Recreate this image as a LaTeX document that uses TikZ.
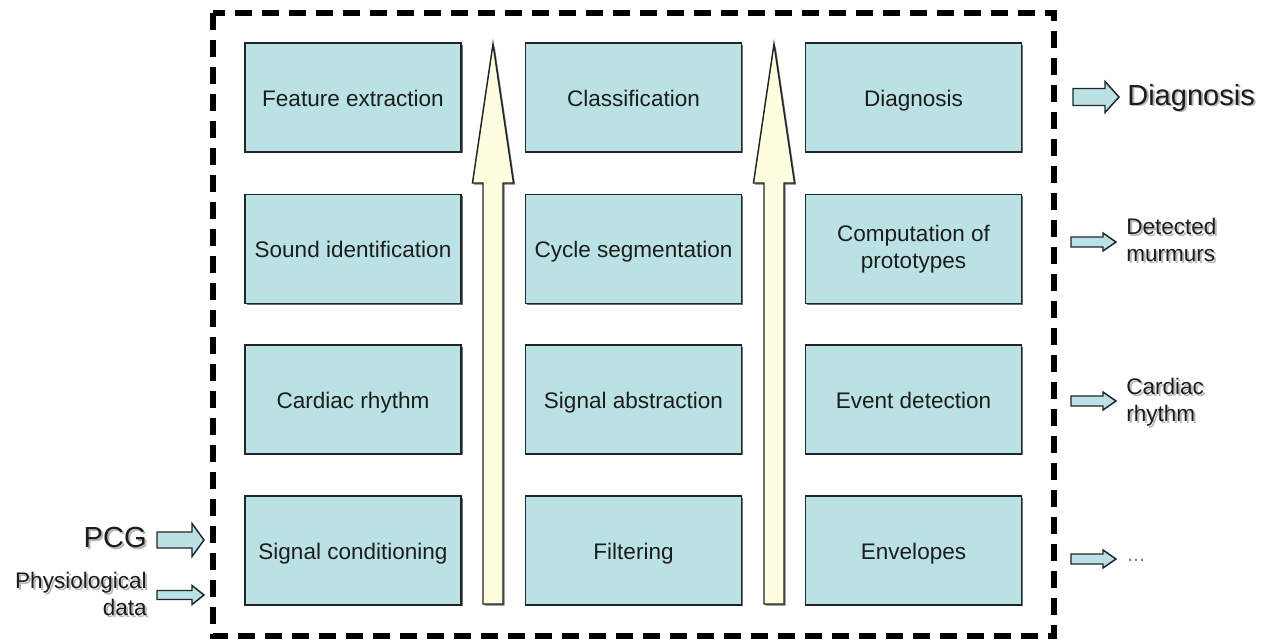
\documentclass[tikz,border=0pt]{standalone}
\usepackage{fontspec}
\setmainfont{Liberation Sans}
\usetikzlibrary{shadows}
\definecolor{boxfill}{RGB}{186,226,228}
\definecolor{arrfill}{RGB}{255,253,224}
\definecolor{txt}{RGB}{28,28,28}
\definecolor{edge}{RGB}{30,38,40}
\newcommand\blkarrow[6]{% x0, xhead, xtip, yc, shaft half, head half
  \filldraw[blockarr] (#1,#4-#5) -- (#2,#4-#5) -- (#2,#4-#6) -- (#3,#4)
    -- (#2,#4+#6) -- (#2,#4+#5) -- (#1,#4+#5) -- cycle;}
\begin{document}
\begin{tikzpicture}[x=0.75pt,y=-0.75pt,
  boxbase/.style={draw=edge, line width=1.1pt, fill=boxfill,
    minimum width=162pt, minimum height=81.5pt, inner sep=0pt,
    text=txt, align=center, font=\fontsize{16.9}{20.3}\selectfont,
    drop shadow={shadow xshift=1.2pt, shadow yshift=-1.2pt, fill=black!70, opacity=0.8}},
  stagebox/.style={boxbase, text height=14pt, text depth=1.2pt},
  tallarr/.style={draw=edge, line width=1.1pt, fill=arrfill, line join=miter,
    drop shadow={shadow xshift=1.2pt, shadow yshift=-1.2pt, fill=black!70, opacity=0.8}},
  blockarr/.style={draw=edge, line width=1.1pt, fill=boxfill, line join=miter},
  frame/.style={draw=black, line width=3.8pt, dash pattern=on 12.75pt off 7.5pt},
  outlbl/.style={inner sep=0pt, text=txt, font=\fontsize{16.9}{20.3}\selectfont},
  biglbl/.style={inner sep=0pt, text=txt, font=\fontsize{21.8}{26}\selectfont},
  shade/.style={text=black!28}
]
\useasboundingbox (0,0) rectangle (1264,642);

% dashed frame
\draw[frame] (213,13) rectangle (1054,636);

% tall upward arrows
\filldraw[tallarr] (493,44) -- (513.5,183) -- (503,183) -- (503,604) -- (483,604) -- (483,183) -- (472.5,183) -- cycle;
\filldraw[tallarr] (774,44) -- (794.5,183) -- (784,183) -- (784,604) -- (764,604) -- (764,183) -- (753.5,183) -- cycle;

% stage boxes
\node[stagebox] (b11) at (353,97.5)   {Feature extraction};
\node[stagebox] (b12) at (633.5,97.5) {Classification};
\node[stagebox] (b13) at (913.5,97.5) {Diagnosis};
\node[stagebox] (b21) at (353,249)    {Sound identification};
\node[stagebox] (b22) at (633.5,249)  {Cycle segmentation};
\node[boxbase]  (b23) at (913.5,249)  {Computation of\\prototypes};
\node[stagebox] (b31) at (353,399.5)  {Cardiac rhythm};
\node[stagebox] (b32) at (633.5,399.5){Signal abstraction};
\node[stagebox] (b33) at (913.5,399.5){Event detection};
\node[stagebox] (b41) at (353,550.5)  {Signal conditioning};
\node[stagebox] (b42) at (633.5,550.5){Filtering};
\node[stagebox] (b43) at (913.5,550.5){Envelopes};

% input arrows
\blkarrow{157}{192}{204}{540}{8}{16.5}
\blkarrow{157}{192}{204}{595}{4.5}{9.5}
% output arrows
\blkarrow{1073}{1105}{1119}{97}{8.5}{15.5}
\blkarrow{1071}{1103}{1116}{242}{5}{9}
\blkarrow{1071}{1103}{1116}{401}{5}{9}
\blkarrow{1071}{1103}{1116}{559}{5}{9}

% input labels
\node[biglbl, shade, anchor=base east] at (149,549) {PCG};
\node[biglbl, anchor=base east] (pcg) at (147,547) {PCG};
\node[outlbl, shade, align=right, anchor=east] at (149,596.3) {Physiological\\data};
\node[outlbl, align=right, anchor=east] (phys) at (147,594.3) {Physiological\\data};

% output labels
\node[biglbl, shade, anchor=base west] at (1129,107) {Diagnosis};
\node[biglbl, anchor=base west] (diag) at (1127,105) {Diagnosis};
\node[outlbl, shade, align=left, anchor=west] at (1128,242) {Detected\\murmurs};
\node[outlbl, align=left, anchor=west] (murm) at (1126,240) {Detected\\murmurs};
\node[outlbl, shade, align=left, anchor=west] at (1128,404.5) {Cardiac\\rhythm};
\node[outlbl, align=left, anchor=west] (rhy) at (1126,402.5) {Cardiac\\rhythm};
\node[outlbl, anchor=base west, text=black!50, font=\fontsize{16}{18}\selectfont] (dots) at (1127,561) {...};
\end{tikzpicture}
\end{document}
